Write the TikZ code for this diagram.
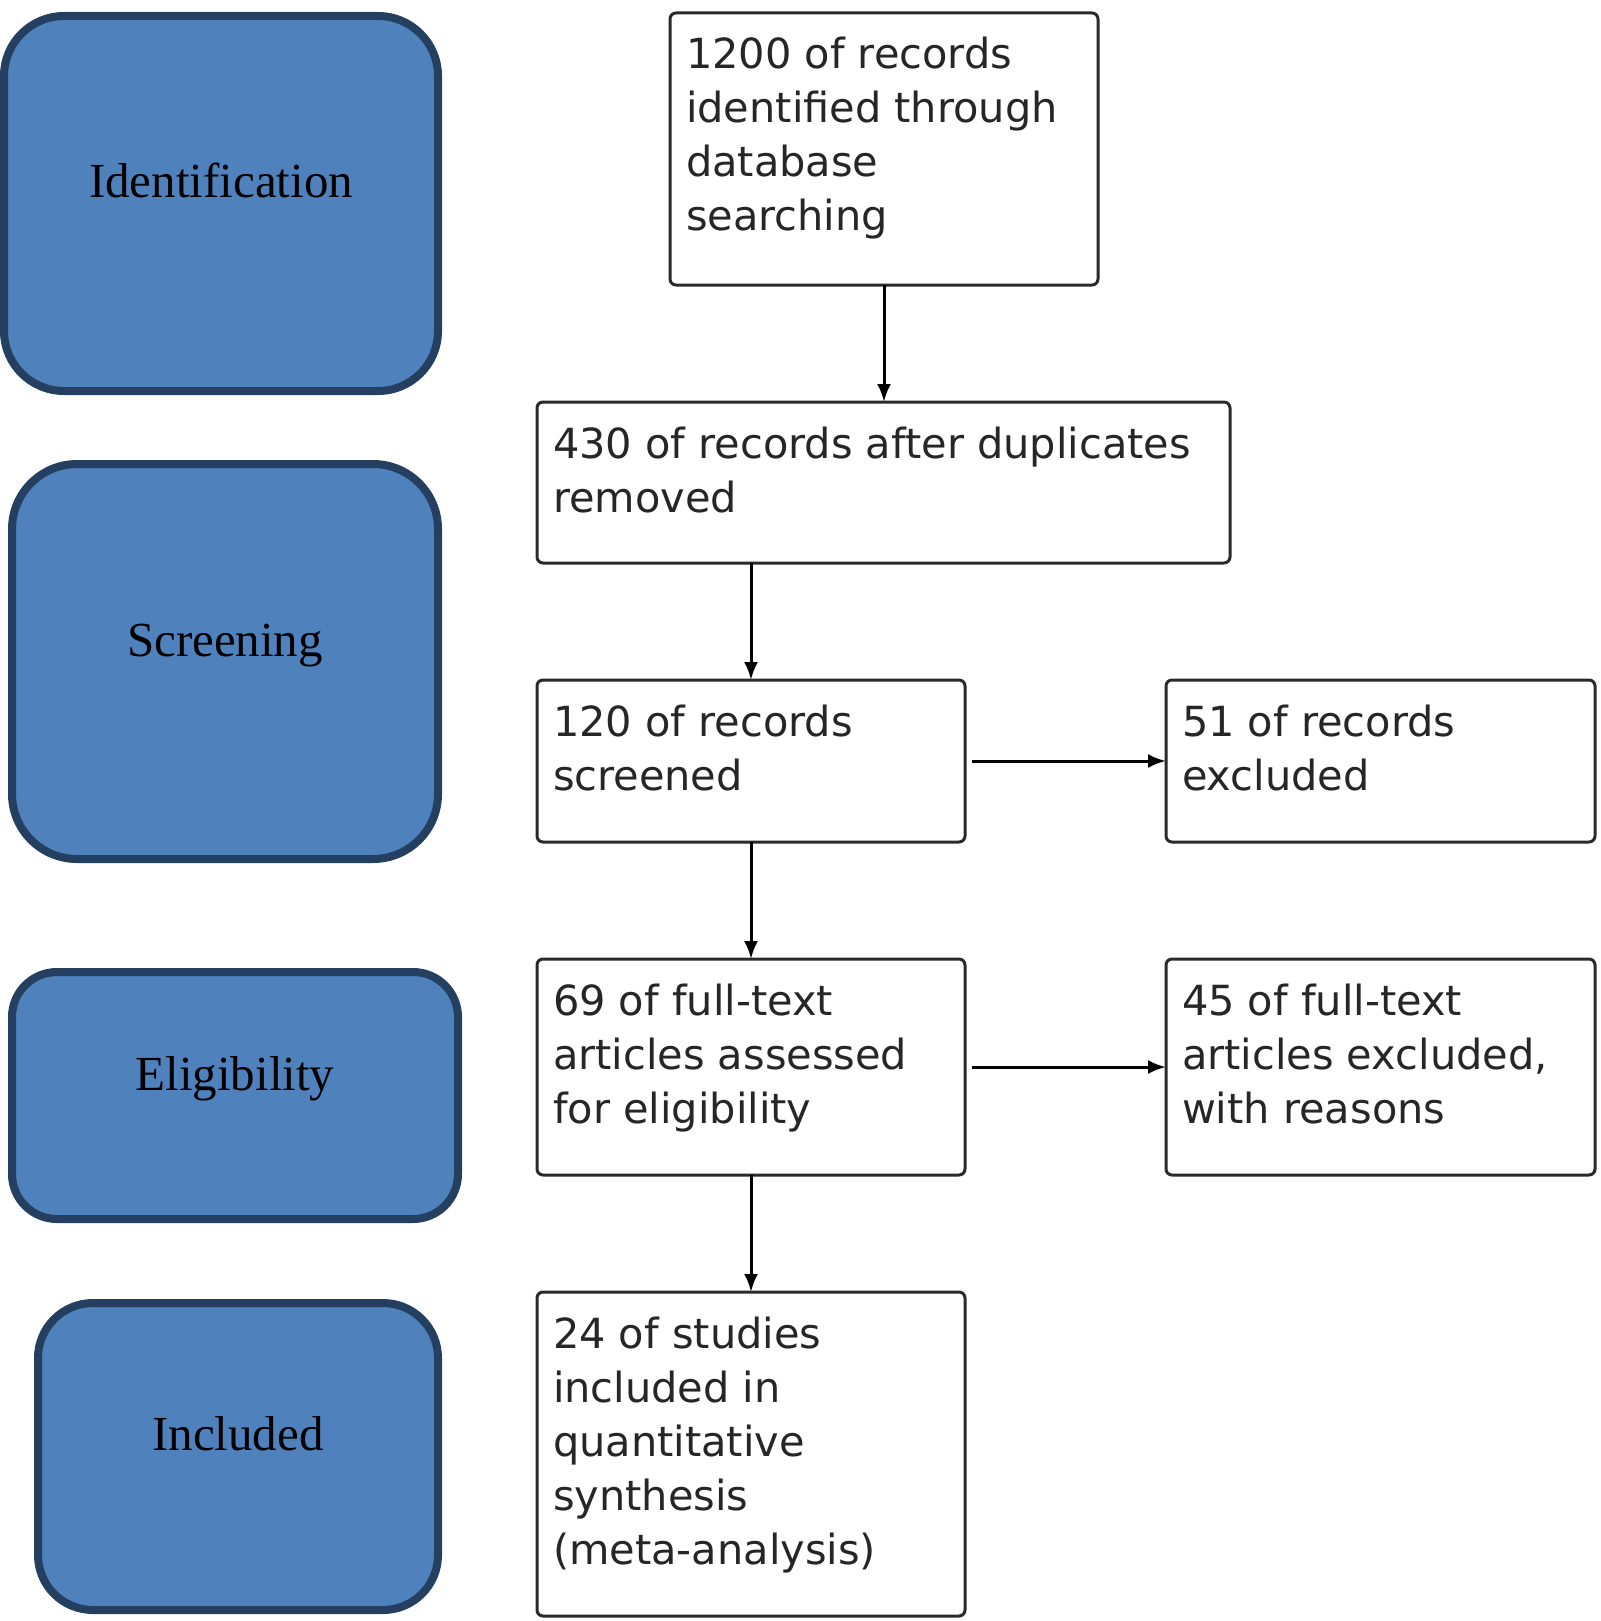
\documentclass[tikz,border=0pt]{standalone}
\usepackage{fontspec}
\setmainfont{Liberation Serif}
\newfontfamily\boxfont{DejaVu Sans}
\usetikzlibrary{arrows.meta}
\definecolor{phasefill}{HTML}{4F81BD}
\definecolor{phasedraw}{HTML}{243F60}
\definecolor{boxline}{HTML}{2A2A2A}
\newcommand{\flowtext}[3]{\parbox[c][#2][t]{#1}{\raggedright\rule{0pt}{56pt}#3}}
\begin{document}
\begin{tikzpicture}[x=1pt,y=-1pt,
  phase/.style={draw=phasedraw, fill=phasefill, line width=8pt, anchor=north west,
    inner sep=0pt, outer sep=0pt},
  phasetext/.style={font=\fontsize{49}{60}\selectfont, inner sep=0pt,
    text height=34pt, text depth=0pt, text=black},
  flowbox/.style={draw=boxline, line width=3pt, rounded corners=6pt, fill=white,
    inner xsep=16pt, inner ysep=0pt, outer sep=0pt, anchor=north west,
    font=\boxfont\fontsize{41.5}{54}\selectfont, text=black!85},
  arr/.style={draw=black, line width=3pt, -{Latex[length=18pt,width=14pt]}}]
\useasboundingbox (0,0) rectangle (1600,1621);

% phase boxes
\node[phase, minimum width=434pt, minimum height=375pt, rounded corners=60pt,
  label={[phasetext, name=lidn, yshift=22.5pt]center:Identification}] (idn) at (4,16) {};
\node[phase, minimum width=426pt, minimum height=395pt, rounded corners=65pt,
  label={[phasetext, name=lscr, yshift=22.5pt]center:Screening}] (scr) at (12,464) {};
\node[phase, minimum width=446pt, minimum height=247pt, rounded corners=45pt,
  label={[phasetext, name=leli, yshift=22.5pt]center:Eligibility}] (eli) at (12,972) {};
\node[phase, minimum width=400pt, minimum height=307pt, rounded corners=55pt,
  label={[phasetext, name=linc, yshift=23.5pt]center:Included}] (inc) at (38,1303) {};

% flow boxes
\node[flowbox] (a) at (670,13) {\flowtext{396pt}{272pt}{1200 of records\\identified through\\database\\searching}};
\node[flowbox] (b) at (537,402) {\flowtext{661pt}{161pt}{430 of records after duplicates\\removed}};
\node[flowbox] (c) at (537,680) {\flowtext{396pt}{162pt}{120 of records\\screened}};
\node[flowbox] (d) at (1166,680) {\flowtext{397pt}{162pt}{51 of records\\excluded}};
\node[flowbox] (e) at (537,959) {\flowtext{396pt}{216pt}{69 of full-text\\articles assessed\\for eligibility}};
\node[flowbox] (f) at (1166,959) {\flowtext{397pt}{216pt}{45 of full-text\\articles excluded,\\with reasons}};
\node[flowbox] (g) at (537,1292) {\flowtext{396pt}{324pt}{24 of studies\\included in\\quantitative\\synthesis\\(meta-analysis)}};

% connectors
\draw[arr] (a.south) -- (a.south |- b.north);
\draw[arr] (b.south -| c.north) -- (c.north);
\draw[arr] (c.south) -- (e.north);
\draw[arr] (e.south) -- (g.north);
\draw[arr] ([xshift=7pt]c.east) -- (d.west);
\draw[arr] ([xshift=7pt]e.east) -- (f.west);
\end{tikzpicture}
\end{document}
